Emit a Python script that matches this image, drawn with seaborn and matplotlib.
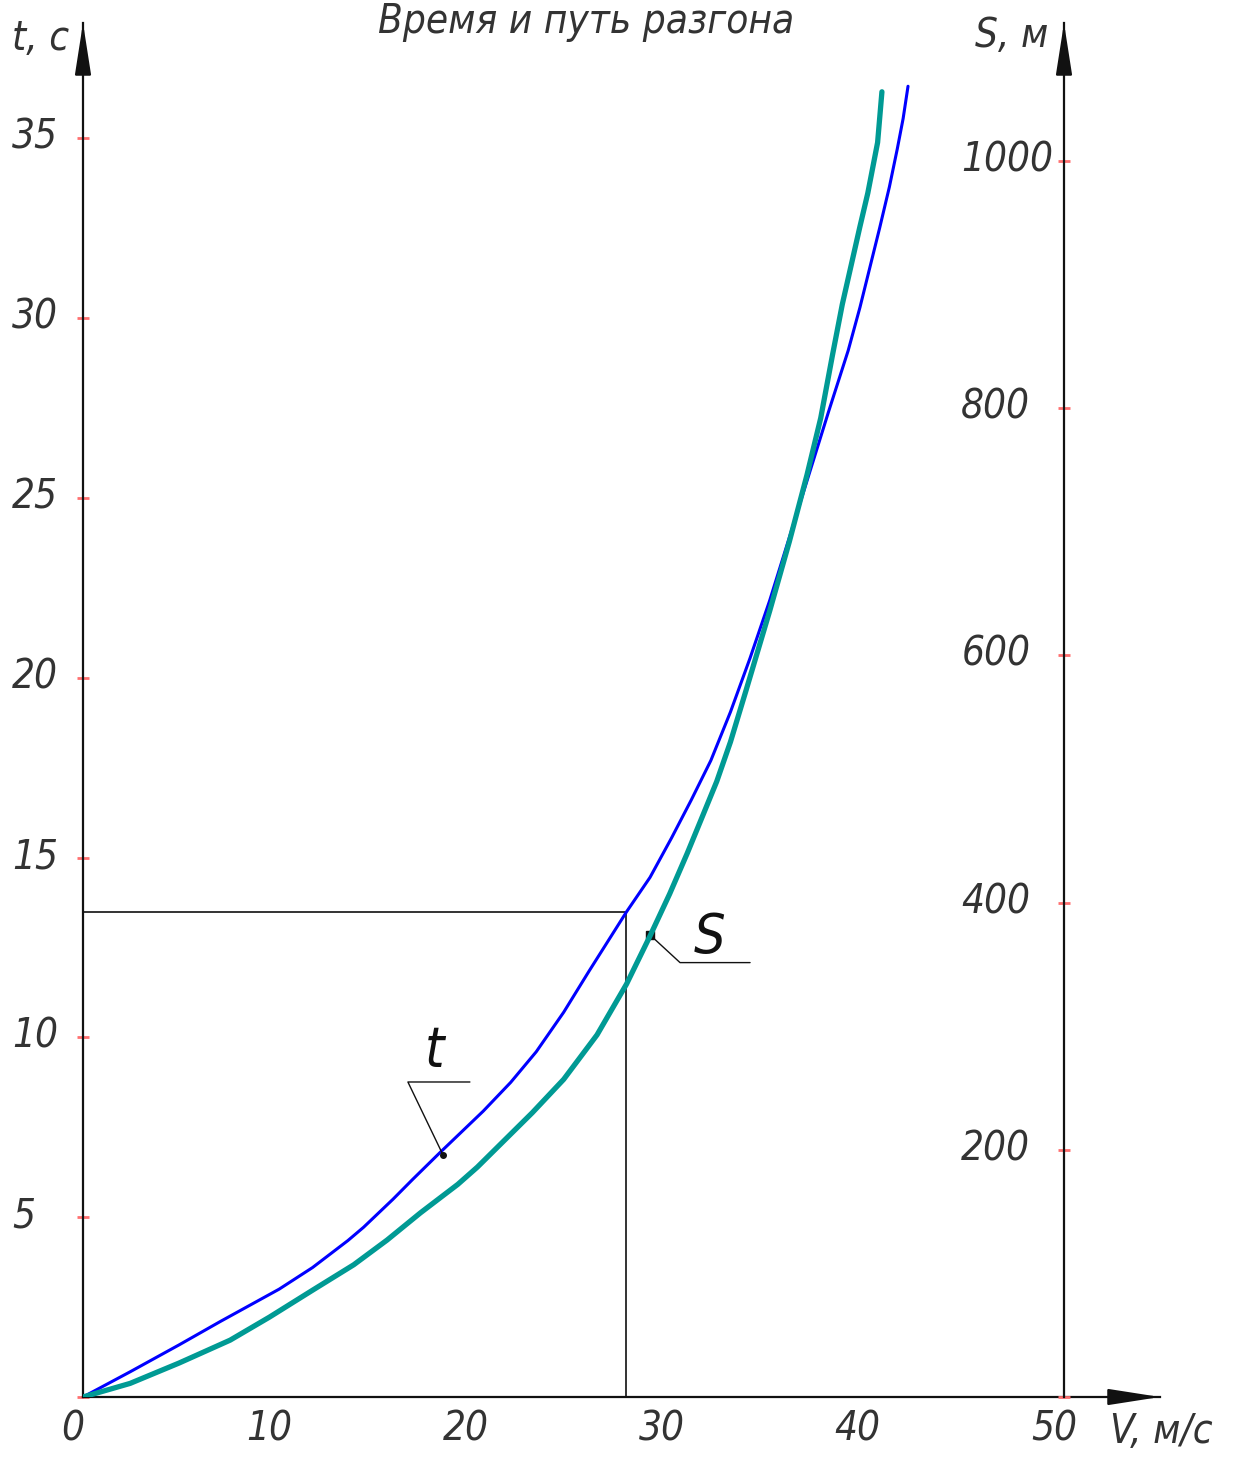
import matplotlib
matplotlib.use("Agg")
import matplotlib.pyplot as plt
from matplotlib.transforms import ScaledTranslation
import seaborn as sns
import pandas as pd

# Acceleration time t(V) and distance S(V)
v_time = [0, 2.4, 4.9, 7.0, 10.0, 11.7, 13.5, 14.3, 15.8, 16.8, 18.2, 20.4, 21.8, 23.1,
          24.5, 25.8, 27.7, 28.9, 30.0, 31.0, 32.0, 33.0, 34.0, 35.0, 36.0, 37.0, 38.0,
          39.0, 39.6, 40.1, 40.6, 41.1, 41.5, 41.8, 42.05]
t_values = [0, 0.7, 1.45, 2.1, 3.0, 3.6, 4.35, 4.72, 5.5, 6.05, 6.8, 7.95, 8.75, 9.6,
            10.7, 11.85, 13.49, 14.45, 15.55, 16.6, 17.7, 19.05, 20.55, 22.15, 23.9, 25.65,
            27.4, 29.1, 30.3, 31.4, 32.5, 33.65, 34.7, 35.55, 36.45]

v_dist = [0, 2.4, 4.9, 7.5, 9.5, 11.7, 13.8, 15.5, 17.2, 19.1, 20.1, 22.9, 24.5, 26.2,
          27.7, 28.9, 29.9, 30.8, 31.5, 32.3, 33.0, 33.8, 35.0, 36.0, 36.9, 37.6, 38.2,
          38.7, 39.2, 39.6, 40.0, 40.5, 40.72]
s_values = [0, 11, 27.5, 46, 64.6, 86.4, 107, 127, 149, 172, 186, 230, 257, 293, 334, 373,
            407, 440, 467, 498, 530, 572, 636, 692, 746, 792, 843, 884, 919, 947, 974,
            1015, 1056]

x_major = [0, 10, 20, 30, 40, 50]
x_minor = [5, 15, 25, 35, 45]
t_ticks = [5, 10, 15, 20, 25, 30, 35]
s_ticks = [200, 400, 600, 800, 1000]

# reading at V = 27.7 m/s, t = 13.5 s
v_read, t_read = 27.7, 13.5

sns.set_theme(style="white")
plt.rcParams["font.family"] = ["DejaVu Sans"]
plt.rcParams["font.style"] = "italic"
plt.rcParams["font.stretch"] = "condensed"

TXT = "#333333"
TICK = "#ff7070"
FS = 29

df_t = pd.DataFrame({"V": v_time, "t": t_values})
df_s = pd.DataFrame({"V": v_dist, "S": s_values})

fig = plt.figure(figsize=(12.33, 14.58), dpi=100)
ax = fig.add_axes([83 / 1233, 61 / 1458, (1160 - 83) / 1233, (1397 - 23) / 1458])
ax2 = ax.twinx()
ax2.set_position(ax.get_position())

ax.set_xlim(0, (1160 - 83) / 19.62)
ax.set_ylim(0, (1397 - 23) / 35.96)
ax2.set_ylim(0, (1397 - 23) / 1.236)

sns.lineplot(data=df_t, x="V", y="t", ax=ax, color="#0000ff", lw=2.2, zorder=4)
sns.lineplot(data=df_s, x="V", y="S", ax=ax2, color="#009a94", lw=3.8, zorder=3)
for line in ax.get_lines() + ax2.get_lines():
    line.set_solid_joinstyle("round")
    line.set_solid_capstyle("round")

# spines: left and bottom on main axes, S-axis at V = 50
for name in ["top", "right"]:
    ax.spines[name].set_visible(False)
for name in ["top", "right", "bottom"]:
    ax2.spines[name].set_visible(False)
for sp in [ax.spines["left"], ax.spines["bottom"], ax2.spines["left"]]:
    sp.set_color("#111111")
    sp.set_linewidth(1.6)
ax2.spines["left"].set_visible(True)
ax2.spines["left"].set_position(("data", 50))
ax2.yaxis.set_ticks_position("left")
ax2.yaxis.set_label_position("left")

ax.set_xticks(x_major)
ax.set_xticklabels([str(v) for v in x_major])
ax.set_xticks(x_minor, minor=True)
ax.set_yticks([0] + t_ticks)
ax.set_yticklabels([""] + [str(v) for v in t_ticks])
ax2.set_yticks([0] + s_ticks)
ax2.set_yticklabels([""] + [str(v) for v in s_ticks])

ax.tick_params(axis="x", which="both", direction="inout", length=8, width=2,
               color=TICK, labelsize=FS, labelcolor=TXT, pad=5)
ax.tick_params(axis="y", direction="inout", length=8, width=2,
               color=TICK, labelsize=FS, labelcolor=TXT, pad=47)
ax2.tick_params(axis="y", direction="inout", length=8, width=2,
                color=TICK, labelsize=FS, labelcolor=TXT, pad=70)
for lab in ax.get_yticklabels() + ax2.get_yticklabels():
    lab.set_horizontalalignment("left")
    lab.set_transform(lab.get_transform() + ScaledTranslation(0, 0.05, fig.dpi_scale_trans))
for lab in ax.get_xticklabels():
    lab.set_transform(lab.get_transform() + ScaledTranslation(-0.10, 0, fig.dpi_scale_trans))

ax.set_xlabel("")
ax.set_ylabel("")
ax2.set_ylabel("")
ax.grid(False)
ax2.grid(False)

# arrow heads at the ends of the axes
ymax = ax.get_ylim()[1]
xmax = ax.get_xlim()[1]
arrow = dict(arrowstyle="-|>,head_length=1.6,head_width=0.25", color="#111111",
             lw=1.6, mutation_scale=20, shrinkA=0, shrinkB=0)
ax.annotate("", xy=(0, ymax), xytext=(0, ymax - 1.0), arrowprops=arrow, annotation_clip=False)
ax.annotate("", xy=(50, ymax), xytext=(50, ymax - 1.0), arrowprops=arrow, annotation_clip=False)
ax.annotate("", xy=(xmax, 0), xytext=(xmax - 2.0, 0), arrowprops=arrow, annotation_clip=False)

# reading lines
ax.plot([0, v_read], [t_read, t_read], color="#111111", lw=1.2, zorder=2)
ax.plot([v_read, v_read], [0, t_read], color="#111111", lw=1.2, zorder=2)

# leader for t
ax.plot([19.72, 16.56, 18.35], [8.76, 8.76, 6.73], color="#111111", lw=1.0, zorder=5)
ax.plot([18.35], [6.73], marker="o", ms=4, color="#111111", zorder=6)
ax.text(17.94, 9.2, "t", fontsize=40, color="#111111", ha="center", va="baseline")

# leader for S
ax.plot([28.9, 30.43, 34.0], [12.85, 12.08, 12.08], color="#111111", lw=1.0, zorder=5)
ax.plot([28.9], [12.85], marker="s", ms=6, color="#111111", zorder=6)
ax.text(31.96, 12.35, "S", fontsize=40, color="#111111", ha="center", va="baseline")

# title and axis captions
fig.text(586 / 1233, 1 - 33 / 1458, "Время и путь разгона", fontsize=FS, color=TXT,
         ha="center", va="baseline")
fig.text(12 / 1233, 1 - 50 / 1458, "t, c", fontsize=FS, color=TXT, ha="left", va="baseline")
fig.text(975 / 1233, 1 - 47 / 1458, "S, м", fontsize=FS, color=TXT, ha="left", va="baseline")
fig.text(1110 / 1233, 1 - 1443 / 1458, "V, м/с", fontsize=FS, color=TXT, ha="left", va="baseline")

fig.savefig("out.png", dpi=100, facecolor="white")
